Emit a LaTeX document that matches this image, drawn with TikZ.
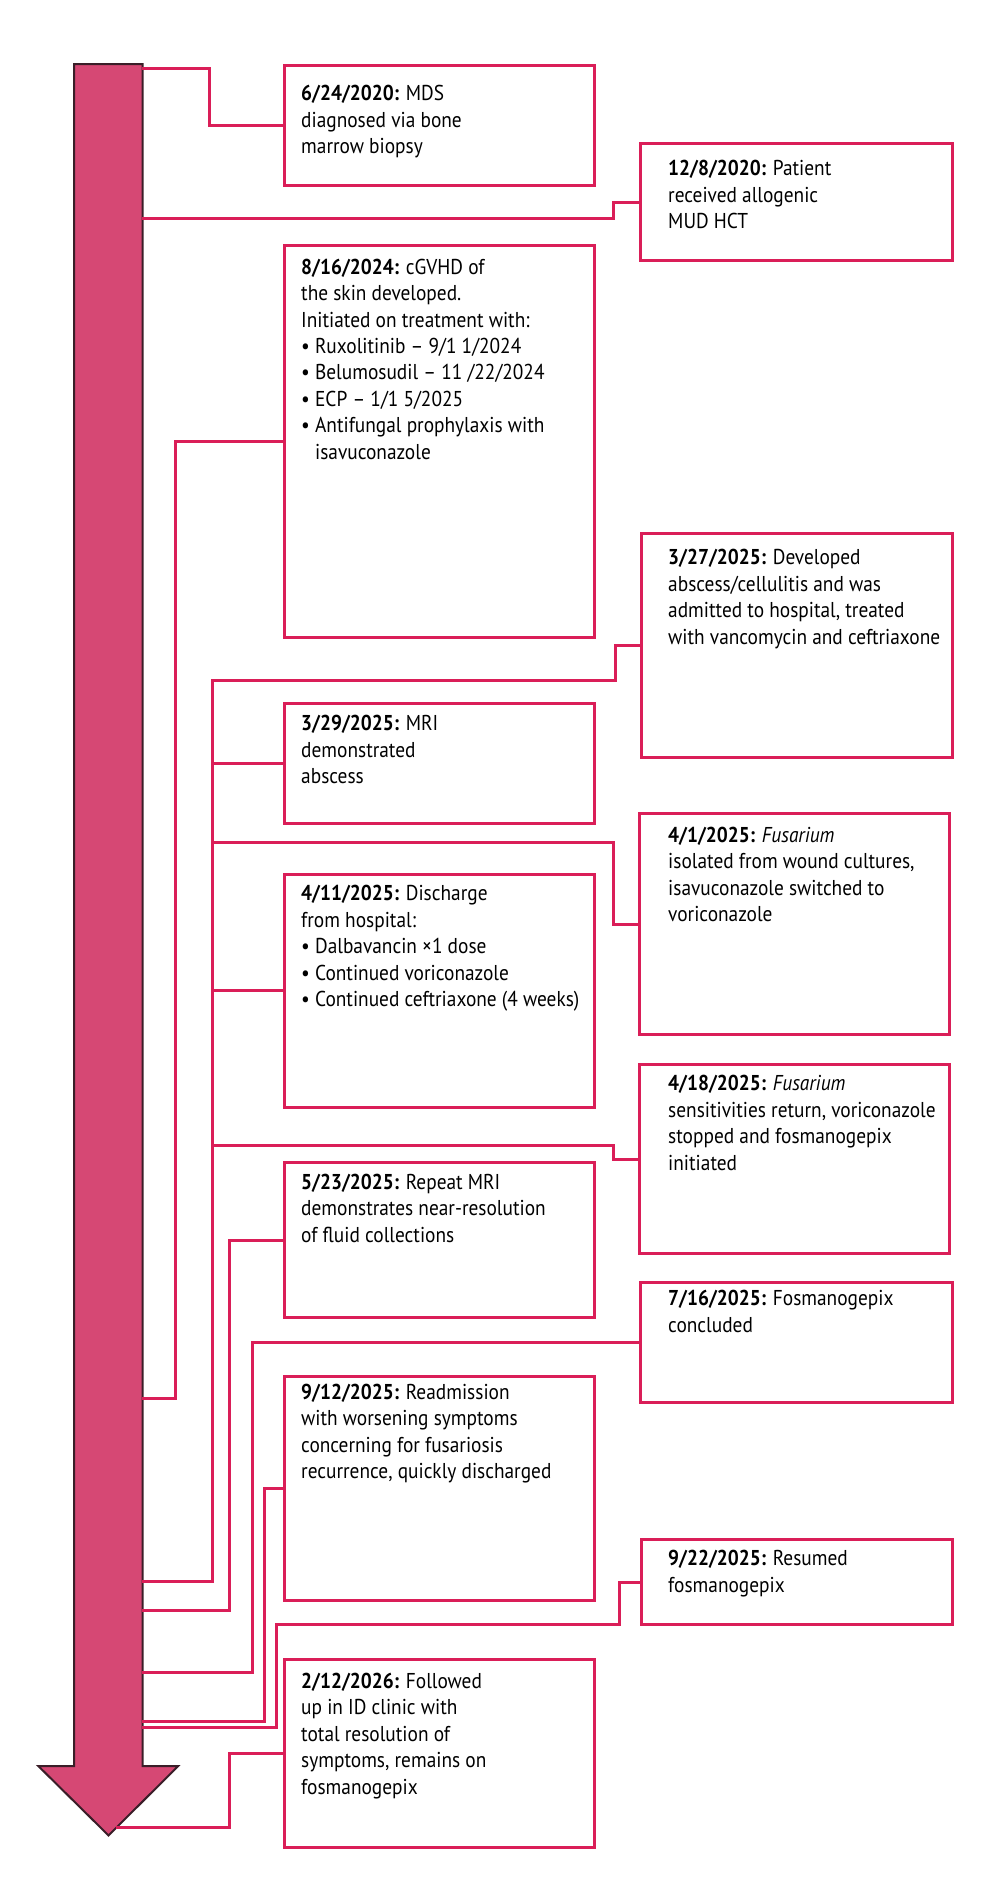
\documentclass[tikz,border=0pt]{standalone}
\usepackage{fontspec}
\setmainfont{PT Sans}[FakeStretch=0.9]
\definecolor{linec}{RGB}{218,30,88}
\definecolor{shaftc}{RGB}{214,72,116}
\definecolor{outc}{RGB}{58,30,40}
\begin{document}
\begin{tikzpicture}[x=1pt,y=-1pt,
  box/.style={draw=linec, line width=3pt, fill=white, rectangle, inner sep=0pt, anchor=north west},
  conn/.style={draw=linec, line width=3pt},
  txt/.style={anchor=north west, inner sep=0pt, align=left, text=black,
    font=\fontsize{21.5}{26.4}\selectfont, execute at begin node={\rule{0pt}{18pt}}}]
\useasboundingbox (0,0) rectangle (1000,1904);

% timeline arrow
\draw[fill=shaftc, draw=outc, line width=2pt, line join=miter]
  (74,64) -- (142.7,64) -- (142.7,1766) -- (178.3,1766) -- (108.5,1835.4)
  -- (38.3,1766) -- (74,1766) -- cycle;

% attachment points on the arrow
\coordinate (s1) at (142,68.3);
\coordinate (s2) at (142,218.3);
\coordinate (s3) at (142,1398);
\coordinate (s4) at (142,1581);
\coordinate (s5) at (142,1610);
\coordinate (s6) at (142,1672.8);
\coordinate (s7) at (142,1721);
\coordinate (s8) at (142,1727.6);
\coordinate (s9) at (116,1827.7);
\coordinate (tk) at (212,680.7);

% boxes
\node[box, minimum width=309.6pt, minimum height=120pt]   (b624) at (283.4,64.3) {};
\node[box, minimum width=312pt,   minimum height=117.6pt] (b128) at (639.4,141.7) {};
\node[box, minimum width=309.6pt, minimum height=391.7pt] (b816) at (283.4,244.3) {};
\node[box, minimum width=311pt,   minimum height=224.3pt] (b327) at (640,531.7) {};
\node[box, minimum width=309.6pt, minimum height=120pt]   (b329) at (283.4,701.7) {};
\node[box, minimum width=309.6pt, minimum height=221.6pt] (b41)  at (638.4,811.7) {};
\node[box, minimum width=309.6pt, minimum height=233.3pt] (b411) at (283.4,872.7) {};
\node[box, minimum width=309.6pt, minimum height=188.4pt] (b418) at (638.4,1063.3) {};
\node[box, minimum width=309.6pt, minimum height=155pt]   (b523) at (283.4,1161) {};
\node[box, minimum width=312pt,   minimum height=120pt]   (b716) at (639.4,1281) {};
\node[box, minimum width=309.6pt, minimum height=223.5pt] (b912) at (283.4,1375) {};
\node[box, minimum width=311.8pt, minimum height=85pt]    (b922) at (639.5,1538.3) {};
\node[box, minimum width=309.6pt, minimum height=188pt]   (b212) at (283.4,1658.2) {};

% connectors
\draw[conn] (b624.west) -| (209.3,68.3) -- (s1);
\draw[conn] (b128.west) -| (613,218.3) -- (s2);
\draw[conn] (b816.west) -| (175.4,1398) -- (s3);
\draw[conn] (b327.west) -| (615,680.7) -- (tk) -- (tk |- s4) -- (s4);
\draw[conn] (b329.west) -- (b329.west -| tk);
\draw[conn] (b41.west) -| (613,842.7) -- (212,842.7);
\draw[conn] (b411.west) -- (b411.west -| tk);
\draw[conn] (b418.west) -| (613,1145) -- (212,1145);
\draw[conn] (b523.west) -| (229.7,1610) -- (s5);
\draw[conn] (b716.west) -| (252.6,1672.8) -- (s6);
\draw[conn] (b912.west) -| (264.1,1721) -- (s7);
\draw[conn] (b922.west) -| (619.5,1624) -| (276.3,1727.6) -- (s8);
\draw[conn] (b212.west) -| (229.6,1827.7) -- (s9);

% texts
\node[txt] (t624) at (301,85.3) {\textbf{6/24/2020:} MDS\\diagnosed via bone\\marrow biopsy};
\node[txt] (t128) at (668,160.3) {\textbf{12/8/2020:} Patient\\received allogenic\\MUD HCT};
\node[txt] (t816) at (301,258.7) {\textbf{8/16/2024:} cGVHD of\\the skin developed.\\Initiated on treatment with:\\• Ruxolitinib – 9/1 1/2024\\• Belumosudil – 11 /22/2024\\• ECP – 1/1 5/2025\\• Antifungal prophylaxis with\\\phantom{• }isavuconazole};
\node[txt] (t327) at (668,549.3) {\textbf{3/27/2025:} Developed\\abscess/cellulitis and was\\admitted to hospital, treated\\with vancomycin and ceftriaxone};
\node[txt] (t329) at (301,715.3) {\textbf{3/29/2025:} MRI\\demonstrated\\abscess};
\node[txt] (t41) at (668,827) {\textbf{4/1/2025:} \textit{Fusarium}\\isolated from wound cultures,\\isavuconazole switched to\\voriconazole};
\node[txt] (t411) at (301,885.3) {\textbf{4/11/2025:} Discharge\\from hospital:\\• Dalbavancin ×1 dose\\• Continued voriconazole\\• Continued ceftriaxone (4 weeks)};
\node[txt] (t418) at (668,1075.3) {\textbf{4/18/2025:} \textit{Fusarium}\\sensitivities return, voriconazole\\stopped and fosmanogepix\\initiated};
\node[txt] (t523) at (301,1173.7) {\textbf{5/23/2025:} Repeat MRI\\demonstrates near-resolution\\of fluid collections};
\node[txt] (t716) at (668,1290.3) {\textbf{7/16/2025:} Fosmanogepix\\concluded};
\node[txt] (t912) at (301,1384) {\textbf{9/12/2025:} Readmission\\with worsening symptoms\\concerning for fusariosis\\recurrence, quickly discharged};
\node[txt] (t922) at (668,1550.3) {\textbf{9/22/2025:} Resumed\\fosmanogepix};
\node[txt] (t212) at (301,1673) {\textbf{2/12/2026:} Followed\\up in ID clinic with\\total resolution of\\symptoms, remains on\\fosmanogepix};
\end{tikzpicture}
\end{document}
